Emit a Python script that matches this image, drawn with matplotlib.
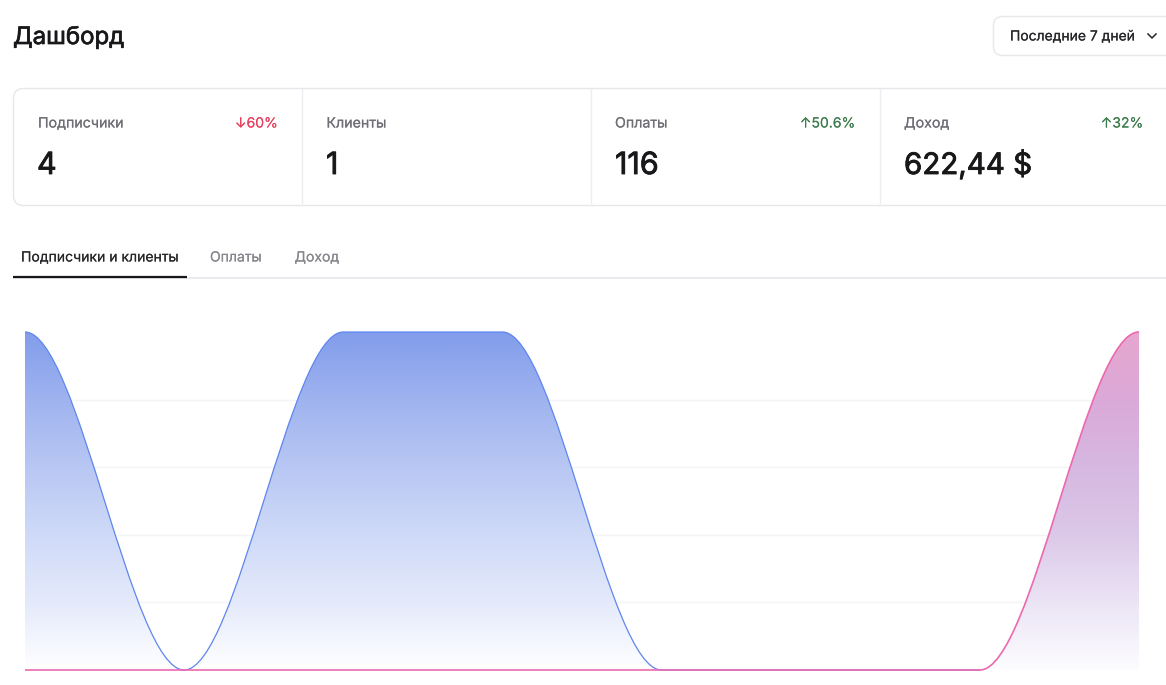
import matplotlib
matplotlib.use('Agg')
import matplotlib.pyplot as plt
import matplotlib.patheffects as pe
import numpy as np
from matplotlib.colors import to_rgba
from matplotlib.patches import FancyBboxPatch, PathPatch
from matplotlib.path import Path

plt.rcParams['font.family'] = ['Inter', 'DejaVu Sans']

# data
days = [0, 1, 2, 3, 4, 5, 6, 7]
subscribers = [1, 0, 1, 1, 0, 0, 0]
clients = [0, 0, 0, 0, 0, 0, 0, 1]
grid_values = [0, 0.2, 0.4, 0.6, 0.8, 1]

card_titles = ['Подписчики', 'Клиенты', 'Оплаты', 'Доход']
card_values = ['4', '1', '116', '622,44 $']
card_changes = ['↓60%', '', '↑50.6%', '↑32%']
card_colors = ['#e8415f', '#000000', '#3f7d4e', '#3f7d4e']
tabs = ['Подписчики и клиенты', 'Оплаты', 'Доход']
page_title = 'Дашборд'
period = 'Последние 7 дней'

W, H = 1166, 685
fig = plt.figure(figsize=(W / 100, H / 100), dpi=100, facecolor='white')

# page layer in pixel coordinates
ui = fig.add_axes([0, 0, 1, 1])
ui.set_xlim(0, W)
ui.set_ylim(H, 0)
ui.axis('off')


def px(size):
    return size * 0.72


def heavier(txt, width=0.3):
    # the installed Inter only draws regular weight here
    txt.set_path_effects([pe.withStroke(linewidth=width, foreground=txt.get_color())])


heavier(ui.text(13, 44, page_title, fontsize=px(24), color='#18181b', va='baseline'), 0.5)

# period dropdown
ui.add_patch(FancyBboxPatch((993.5, 16.5), 190, 39, boxstyle='round,pad=0,rounding_size=9',
                            fc='white', ec='#e7e7ec', lw=1))
heavier(ui.text(1010, 40.5, period, fontsize=px(13.9), color='#27272a', va='baseline'), 0.1)
ui.plot([1148, 1152, 1156], [34, 38, 34], color='#27272a', lw=1.1)

# stat cards
ui.add_patch(FancyBboxPatch((13.5, 88.5), 1175, 117, boxstyle='round,pad=0,rounding_size=10',
                            fc='white', ec='#e6e6eb', lw=1))
for x in [302, 591, 879.6]:
    ui.plot([x, x], [89, 205], color='#eeeef2', lw=1)

text_x = [38, 326.5, 615, 904]
value_x = [37, 326, 615, 904]
value_size = [30.5, 30.5, 30.5, 29.5]
right_x = [278, 0, 855.5, 1143.5]
for i in range(4):
    heavier(ui.text(text_x[i], 127.5, card_titles[i], fontsize=px(14.2), color='#6f6f76', va='baseline'), 0.1)
    heavier(ui.text(value_x[i], 174, card_values[i], fontsize=px(value_size[i]), color='#18181b', va='baseline'), 0.6)
    if card_changes[i]:
        heavier(ui.text(right_x[i], 127.5, card_changes[i], fontsize=px(14), color=card_colors[i],
                        ha='right', va='baseline'), 0.05)

# tabs
ui.plot([13, W], [278, 278], color='#e8e8ec', lw=1.2, solid_capstyle='butt')
ui.plot([13, 187], [276.5, 276.5], color='#18181b', lw=1.6, solid_capstyle='butt')
tab_x = [21, 210, 294.5]
tab_colors = ['#27272a', '#85858c', '#85858c']
for i in range(3):
    heavier(ui.text(tab_x[i], 261.5, tabs[i], fontsize=px(14), color=tab_colors[i], va='baseline'), 0.05)

# chart
ax = fig.add_axes([25 / W, 1 - 670 / H, (1139 - 25) / W, (670 - 332) / H])
ax.set_xlim(days[0], days[-1])
ax.set_ylim(0, 1)
ax.axis('off')
for y in grid_values[1:-1]:
    ax.axhline(y, color='#f4f4f8', lw=1, zorder=1)


def smooth_path(xs, ys, close=False):
    # cubic segments with flat tangents at each point
    verts = [(xs[0], ys[0])]
    codes = [Path.MOVETO]
    for k in range(len(xs) - 1):
        h = (xs[k + 1] - xs[k]) / 3.0
        verts += [(xs[k] + h, ys[k]), (xs[k + 1] - h, ys[k + 1]), (xs[k + 1], ys[k + 1])]
        codes += [Path.CURVE4] * 3
    if close:
        verts += [(xs[-1], 0), (xs[0], 0), (xs[0], ys[0])]
        codes += [Path.LINETO, Path.LINETO, Path.CLOSEPOLY]
    return Path(verts, codes)


def gradient_fill(xs, ys, stops, z):
    # stops run from the bottom of the chart to the top
    pos = np.linspace(0, 1, 256)
    rgba = np.array([to_rgba(c) for c in stops])
    where = np.linspace(0, 1, len(stops))
    img = np.stack([np.interp(pos, where, rgba[:, n]) for n in range(4)], axis=1)[:, None, :]
    im = ax.imshow(img, origin='lower', extent=[days[0], days[-1], 0, 1], aspect='auto',
                   zorder=z, interpolation='bilinear')
    clip = PathPatch(smooth_path(xs, ys, close=True), transform=ax.transData, fc='none', ec='none')
    ax.add_patch(clip)
    im.set_clip_path(clip)


gradient_fill(days[:7], subscribers, ['#ffffff', '#e4eafb', '#cfdaf8', '#b8c7f3', '#9fb3ef', '#829deb'], 2)
gradient_fill(days, clients, ['#fdfdff', '#ebe4f5', '#dcc8e8', '#d6b8e0', '#dba9d8', '#e6a6cf'], 3)

ax.add_patch(PathPatch(smooth_path(days[:7], subscribers), fc='none', ec='#5f86ee', lw=0.9,
                       zorder=4, clip_on=False))
ax.add_patch(PathPatch(smooth_path(days, clients), fc='none', ec='#ec69b0', lw=1.2,
                       zorder=5, clip_on=False))

fig.savefig('out.png', dpi=100)
